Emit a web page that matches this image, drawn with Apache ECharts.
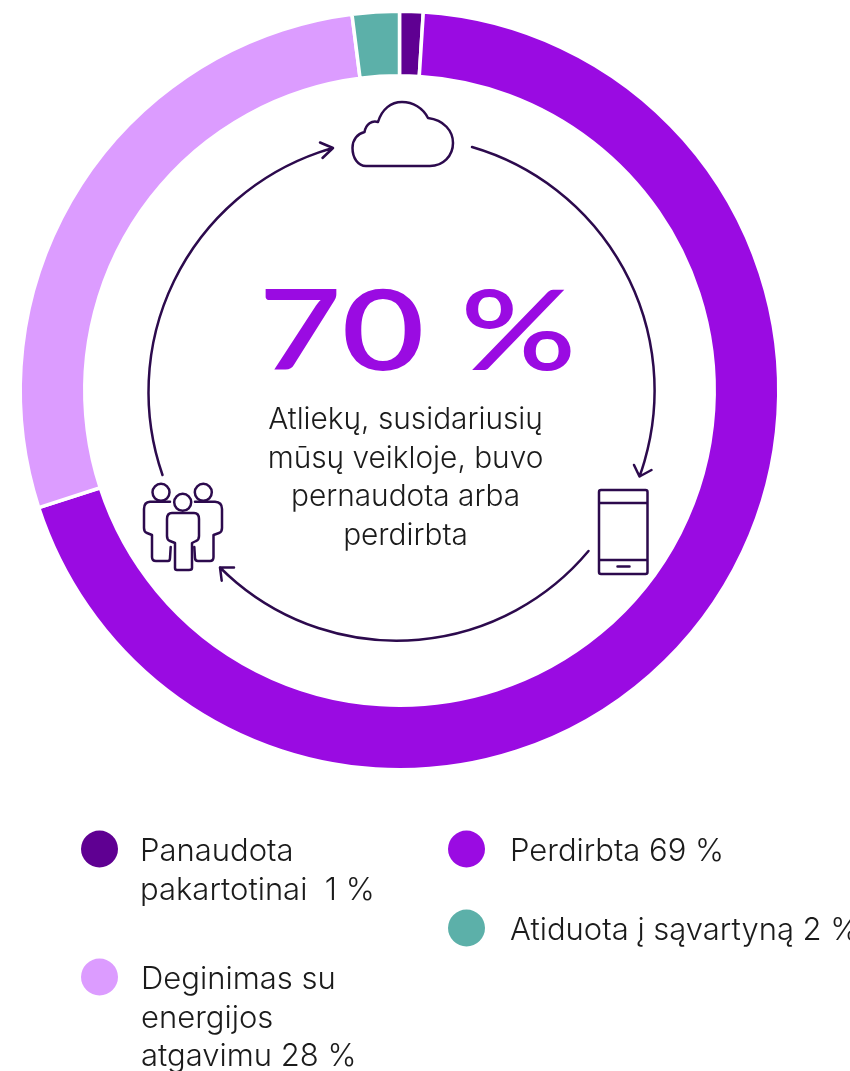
<!DOCTYPE html>
<html><head><meta charset="utf-8">
<style>html,body{margin:0;padding:0;background:#fff}#c{width:850px;height:1071px}</style>
<script src="https://cdn.jsdelivr.net/npm/echarts@6/dist/echarts.min.js"></script>
</head><body><div id="c"></div>
<script>
const categories = ['Panaudota pakartotinai', 'Perdirbta', 'Deginimas su energijos atgavimu', 'Atiduota į sąvartyną'];
const values = [1, 69, 28, 2];
const colors = ['#5f0092', '#9a0be2', '#dc9cff', '#5cb0a9'];
const legendLabels = [['Panaudota', 'pakartotinai  1 %'], ['Perdirbta 69 %'], ['Deginimas su', 'energijos', 'atgavimu 28 %'], ['Atiduota į sąvartyną 2 %']];
const headline = '70 %';
const caption = ['Atliekų, susidariusių', 'mūsų veikloje, buvo', 'pernaudota arba', 'perdirbta'];

const FONT = 'Inter';
const INK = '#2c0a4d';
// icon left, icon centre y, text indent from the icon's left edge
const legendPos = [[81, 849, 59], [448, 849, 62], [81, 977, 60], [448, 928, 62]];
const LH = 38.5;
const DROP = 6;

function legendFor(i) {
  const n = legendLabels[i].length;
  const spacer = (n - 1) * LH + DROP;
  return {
    left: legendPos[i][0], top: legendPos[i][1] - (spacer + n * LH) / 2,
    data: [categories[i]], selectedMode: false, icon: 'circle',
    itemWidth: 37, itemHeight: 37, padding: 0,
    itemStyle: { borderWidth: 0 },
    formatter: () => '{b| }\n' + legendLabels[i].map(t => '{t|' + t + '}').join('\n'),
    textStyle: {
      padding: [0, 0, 0, legendPos[i][2] - 42],
      rich: {
        b: { fontSize: 1, lineHeight: spacer, height: spacer },
        t: { fontFamily: FONT, fontWeight: 300, fontSize: 31, lineHeight: LH, color: '#1b1b1b' }
      }
    }
  };
}
const lineStyle = { fill: 'none', stroke: INK, lineWidth: 2.5, lineCap: 'round', lineJoin: 'round' };
const iconPaths = [
  // cloud
  'M366,166 H430 C443,166 453,156 453,143 C453,131 444,120 428,118 C423,108 413,102 402,102 C391,102 382,109 378,122 C372,120 366,124 364.5,132 C357,134 352.5,140 352.5,148 C352.5,158 358,166 366,166 Z',
  // phone
  'M601,490 H645.5 Q647.5,490 647.5,492 V572 Q647.5,574 645.5,574 H601 Q599,574 599,572 V492 Q599,490 601,490 Z M599,503 H647.5 M599,560 H647.5 M617.5,566.5 H629.5',
  // people
  'M172,513 H194 Q199,513 199,519 V536 Q199,540 196,541 L192,543 V568 Q192,570 189,570 H177 Q175,570 175,568 V543 L170,541 Q167,540 167,536 V519 Q167,513 172,513 Z',
  'M170,501.7 H150 Q144,502 144,509 V528 Q144,532 147,533 L152,535 V557 Q152,561 156,561 H168 Q170,561 170,558 L170.7,547',
  'M195,501.7 H215 Q222,502 222,509 V528 Q222,532 219,533 L213.5,535 V557 Q213.5,561 210,561 H198 Q195,561 195,558 L194.3,547',
  // arrows
  'M472,147 A253.5 253.5 0 0 1 639.5,476.5 M634,465 L639.5,476.5 L651.5,470',
  'M588.5,551 A250 250 0 0 1 220,567.5 M234,567.5 L220,567.5 L221.7,580.7',
  'M162.5,475 A253.5 253.5 0 0 1 333,148 M320,142.5 L333,148 L322.5,158'
];
const heads = [[182.7, 502.3], [161, 492.3], [203.3, 492.3]];
iconPaths.forEach((p, i) => echarts.graphic.registerShape('deco' + i, echarts.graphic.extendPath(p, {})));

const graphic = [
  ...iconPaths.map((p, i) => ({ type: 'deco' + i, silent: true, style: lineStyle })),
  ...heads.map(h => ({ type: 'circle', shape: { cx: h[0], cy: h[1], r: 8.5 }, style: lineStyle })),
  { type: 'text', x: 417.5, y: 334.5, scaleX: 1.29, style: { text: headline, fontFamily: 'Lato', fontWeight: 600, fontSize: 111, fill: '#9a0be2', align: 'center', verticalAlign: 'middle' } },
  ...caption.map((t, i) => ({ type: 'text', x: 405.5, y: 420 + i * 38.7, style: { text: t, fontFamily: FONT, fontWeight: 300, fontSize: 29.8, fill: '#1b1b1b', align: 'center', verticalAlign: 'middle' } }))
];

const chart = echarts.init(document.getElementById('c'), null, { renderer: 'canvas' });
chart.setOption({
  animation: false,
  color: colors,
  legend: categories.map((_, i) => legendFor(i)),
  series: [{
    type: 'pie',
    center: [399.5, 390.5],
    radius: [314.7, 379.3],
    startAngle: 90,
    clockwise: true,
    silent: true,
    label: { show: false },
    labelLine: { show: false },
    itemStyle: { borderColor: '#fff', borderWidth: 3.5 },
    data: categories.map((n, i) => ({ name: n, value: values[i] }))
  }],
  graphic
});
</script></body></html>
